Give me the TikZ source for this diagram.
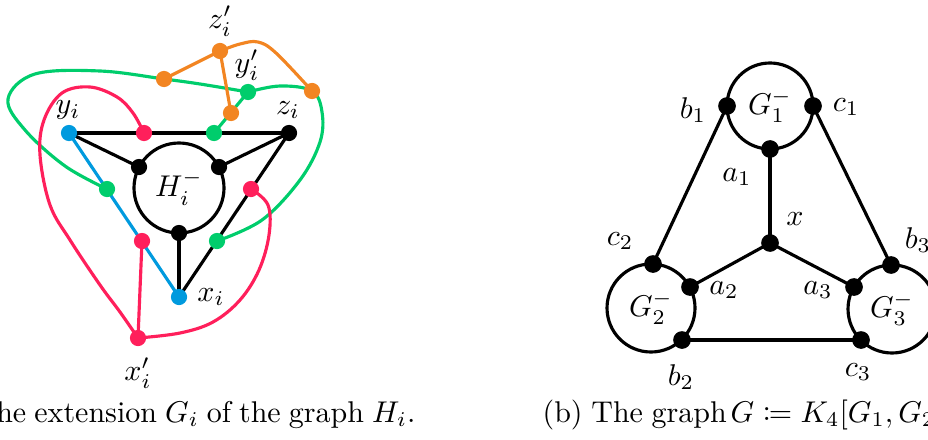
\documentclass[tikz,border=0pt]{standalone}
\usepackage{mathtools}
\definecolor{cred}{HTML}{FF1F5B}
\definecolor{cgreen}{HTML}{00CD6C}
\definecolor{cblue}{HTML}{009ADE}
\definecolor{corange}{HTML}{F28522}
\pgfdeclarelayer{bg}
\pgfsetlayers{bg,main}
\begin{document}
\begin{tikzpicture}[x=0.3333pt,y=-0.3333pt,
 dot/.style={circle,inner sep=0pt,minimum size=5.4pt,fill=black},
 bdot/.style={circle,inner sep=0pt,minimum size=5.9pt,fill=black},
 edge/.style={line width=1.05pt,line cap=round,line join=round},
 blob/.style={circle,draw,line width=1.05pt,inner sep=0pt},
 lab/.style={inner sep=0pt},
 captext/.style={inner sep=0pt}]
\useasboundingbox (0,0) rectangle (928,439);
\clip (0,0) rectangle (928,439);
% ---------- left graph ----------
\node[blob,minimum size=30pt] (H) at (179,188) {};
\node[lab] (lH) at (H.center) {$H_i^-$};
\node[dot,fill=cblue] (yi) at (69,133) {};
\node[dot,fill=cred] (r1) at (144,133) {};
\node[dot,fill=cgreen] (g1) at (214,133) {};
\node[dot] (zi) at (289,133) {};
\node[dot] (h1) at (139,167) {};
\node[dot] (h2) at (219,167) {};
\node[dot] (h3) at (179,233) {};
\node[dot,fill=cblue] (xi) at (179,297) {};
\node[dot,fill=cred] (r2) at (142,241) {};
\node[dot,fill=cgreen] (g2) at (217,241) {};
\node[dot,fill=cred] (xip) at (138,338) {};
\node[dot,fill=cgreen] (g3) at (107,189) {};
\node[dot,fill=cred] (r3) at (251,189) {};
\node[dot,fill=corange] (o1) at (164,79) {};
\node[dot,fill=corange] (zip) at (220,51) {};
\node[dot,fill=corange] (o2) at (231,113) {};
\node[dot,fill=corange] (o3) at (312,91) {};
\node[dot,fill=cgreen] (yip) at (248,92) {};
\node[lab] (lzip) at (220,21) {$z_i'$};
\node[lab] (lyip) at (247,65) {$y_i'$};
\node[lab] (lyi) at (68,110) {$y_i$};
\node[lab] (lzi) at (288,110) {$z_i$};
\node[lab] (lxi) at (211,297) {$x_i$};
\node[lab] (lxip) at (138,373) {$x_i'$};
\begin{pgfonlayer}{bg}
\draw[edge,cgreen] plot[smooth,tension=0.6] coordinates {(yip.center) (200,84) (o1.center) (100,71) (35,74) (8,99) (25,130) (65,166) (g3.center)};
\draw[edge,cgreen] plot[smooth,tension=0.6] coordinates {(yip.center) (280,86) (o3.center) (322,112) (320,142) (300,180) (262,220) (g2.center)};
\draw[edge,cred] plot[smooth,tension=0.6] coordinates {(r1.center) (133,113) (117,97) (90,87) (62,93) (44,120) (40,155) (50,205) (70,240) (100,285) (120,312) (xip.center)};
\draw[edge,cred] plot[smooth,tension=0.6] coordinates {(xip.center) (180,333) (213,322) (240,300) (259,270) (269,235) (268,205) (r3.center)};
\draw[edge] (yi.center) -- (zi.center);
\draw[edge] (yi.center) -- (h1.center);
\draw[edge] (zi.center) -- (h2.center);
\draw[edge] (zi.center) -- (xi.center);
\draw[edge] (h3.center) -- (xi.center);
\draw[edge,cblue] (yi.center) -- (xi.center);
\draw[edge,cgreen] (g1.center) -- (yip.center);
\draw[edge,cred] (r2.center) -- (xip.center);
\draw[edge,corange] (o1.center) -- (zip.center) -- (o2.center);
\draw[edge,corange] plot[smooth,tension=0.6] coordinates {(zip.center) (240,44) (258,42) (276,53) (o3.center)};
\end{pgfonlayer}
% ---------- right graph ----------
\node[blob,minimum size=28.67pt] (G1) at (770,106) {};
\node[blob,minimum size=29.33pt] (G2) at (651,308) {};
\node[blob,minimum size=29.33pt] (G3) at (892,309) {};
\node[lab] (lG1) at (G1.center) {$G_1^-$};
\node[lab] (lG2) at (G2.center) {$G_2^-$};
\node[lab] (lG3) at (G3.center) {$G_3^-$};
\node[bdot] (b1) at (727,106) {};
\node[bdot] (c1) at (813,106) {};
\node[bdot] (a1) at (770,149) {};
\node[bdot] (x) at (770,243) {};
\node[bdot] (c2) at (653,264) {};
\node[bdot] (a2) at (690,287) {};
\node[bdot] (b2) at (682,340) {};
\node[bdot] (b3) at (891,265) {};
\node[bdot] (a3) at (854,287) {};
\node[bdot] (c3) at (861,340) {};
\node[lab] (lb1) at (693,110) {$b_1$};
\node[lab] (lc1) at (846,107) {$c_1$};
\node[lab] (la1) at (737,177) {$a_1$};
\node[lab] (lx) at (795,219) {$x$};
\node[lab] (lc2) at (620,241) {$c_2$};
\node[lab] (la2) at (724,290) {$a_2$};
\node[lab] (lb2) at (681,377) {$b_2$};
\node[lab] (la3) at (818,290) {$a_3$};
\node[lab] (lc3) at (858,372) {$c_3$};
\node[lab] (lb3) at (918,240) {$b_3$};
\begin{pgfonlayer}{bg}
\draw[edge] (b1.center) -- (c2.center);
\draw[edge] (c1.center) -- (b3.center);
\draw[edge] (a1.center) -- (x.center);
\draw[edge] (x.center) -- (a2.center);
\draw[edge] (x.center) -- (a3.center);
\draw[edge] (b2.center) -- (c3.center);
\end{pgfonlayer}
% ---------- captions ----------
\node[captext,anchor=base east] (capa) at (416,422) {\spaceskip=2.7pt (a) The extension $G_i$ of the graph $H_i$.};
\node[captext,anchor=base west] (capb) at (542,422) {\spaceskip=2.9pt (b) The graph\hspace{1.3pt}$G \coloneqq K_4[G_1,G_2,G_3]$.};
\end{tikzpicture}
\end{document}
